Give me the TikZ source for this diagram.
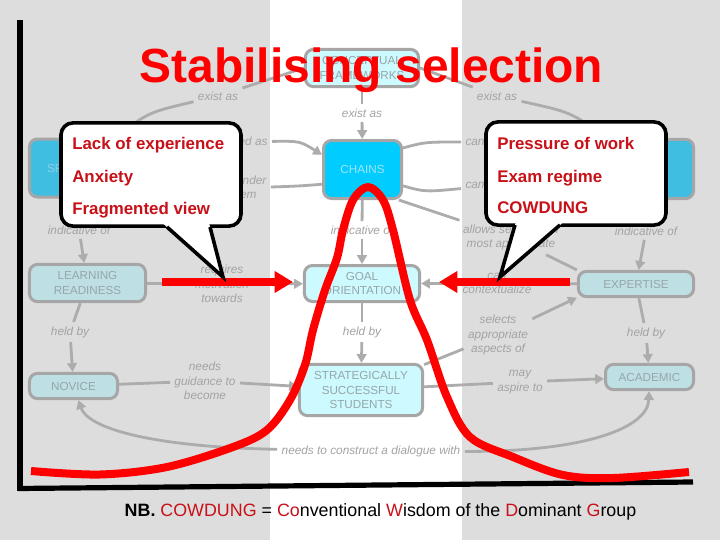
\documentclass[tikz,border=0pt]{standalone}
\usepackage{fontspec}
\setmainfont{Liberation Sans}
\usetikzlibrary{arrows.meta}
\definecolor{bggrey}{RGB}{221,221,221}
\definecolor{linkgrey}{RGB}{172,172,172}
\definecolor{rimgrey}{RGB}{166,166,166}
\definecolor{lblgrey}{RGB}{163,163,163}
\definecolor{boxtxt}{RGB}{150,166,170}
\definecolor{palecyan}{RGB}{190,224,228}
\definecolor{lightcyan}{RGB}{204,250,255}
\definecolor{chainblue}{RGB}{0,204,255}
\definecolor{sideblue}{RGB}{64,190,226}
\definecolor{notered}{RGB}{200,16,24}
\tikzset{
  concept/.style={draw=rimgrey,line width=0.75mm,rounded corners=2mm,align=center,inner sep=0pt,text=boxtxt,font=\fontsize{8.3pt}{10.2pt}\selectfont},
  linklabel/.style={text=lblgrey,align=center,inner sep=3pt,font=\fontsize{8.4pt}{10.3pt}\selectfont\itshape},
  link/.style={draw=linkgrey,line width=0.7mm,>={Triangle[length=2.2mm,width=2.4mm]}},
  callout/.style={draw=black,fill=white,line width=0.9mm,rounded corners=3mm,minimum width=45mm,minimum height=25.8mm,inner sep=0pt},
  notetext/.style={text=notered,inner sep=0pt,anchor=base west,font=\fontsize{12pt}{14pt}\selectfont\bfseries},
  redarrow/.style={draw=red,line width=1.8mm,-{Triangle[length=4.6mm,width=5.2mm]}},
  axisline/.style={draw=black,line width=1.5mm},
  bellcurve/.style={draw=red,line width=2mm}
}
\begin{document}
\begin{tikzpicture}[x=0.25mm,y=-0.25mm]
\useasboundingbox (0,0) rectangle (720,540);
\fill[bggrey] (0,0) rectangle (720,540);
\fill[white] (270,0) rectangle (462,540);

\node[concept,fill=lightcyan,minimum width=28.3mm,minimum height=9.3mm] (cf) at (362,68) {CONCEPTUAL\\FRAMEWORKS};
\node[concept,fill=chainblue,text={rgb,255:red,160;green,228;blue,248},minimum width=19.5mm,minimum height=14.5mm] (chains) at (362.5,169.5) {CHAINS};
\node[concept,fill=sideblue,text={rgb,255:red,140;green,205;blue,228},minimum width=20.8mm,minimum height=14.5mm] (spokes) at (71,168) {SPOKES};
\node[concept,fill=sideblue,text={rgb,255:red,140;green,205;blue,228},minimum width=20.8mm,minimum height=14.8mm] (nets) at (652,169) {NETS};
\node[concept,fill=lightcyan,minimum width=28.8mm,minimum height=9mm] (goal) at (362,283.5) {GOAL\\ORIENTATION};
\node[concept,fill=lightcyan,minimum width=30.8mm,minimum height=12.8mm] (strat) at (361,390) {STRATEGICALLY\\SUCCESSFUL\\STUDENTS};
\node[concept,fill=palecyan,minimum width=29mm,minimum height=9.3mm] (lr) at (87.5,283) {LEARNING\\READINESS};
\node[concept,fill=palecyan,minimum width=22mm,minimum height=6.3mm] (novice) at (73.5,386) {NOVICE};
\node[concept,fill=palecyan,minimum width=28.8mm,minimum height=6.3mm] (expertise) at (636,284) {EXPERTISE};
\node[concept,fill=palecyan,minimum width=22mm,minimum height=6.3mm] (academic) at (649.5,377) {ACADEMIC};

\node[linklabel] (l_ex1) at (218,96) {exist as};
\node[linklabel] (l_ex2) at (497,96) {exist as};
\node[linklabel] (l_ex3) at (362,113) {exist as};
\node[linklabel,anchor=east] (l_dev) at (272,142) {developed as};
\node[linklabel] (l_col) at (228,188.5) {collapse under\\the system};
\node[linklabel,anchor=west] (l_ca1) at (461,142) {can develop into};
\node[linklabel,anchor=west] (l_ca2) at (461,185) {can revert to};
\node[linklabel] (l_allow) at (511,237.5) {allows selection of\\most appropriate};
\node[linklabel] (l_ind1) at (79,230) {indicative of};
\node[linklabel] (l_ind2) at (362,230) {indicative of};
\node[linklabel] (l_ind3) at (646,231) {indicative of};
\node[linklabel] (l_req) at (222,284) {requires\\motivation\\towards};
\node[linklabel] (l_held1) at (70,332) {held by};
\node[linklabel] (l_held2) at (362,332) {held by};
\node[linklabel] (l_held3) at (646,333) {held by};
\node[linklabel] (l_needs) at (205,381) {needs\\guidance to\\become};
\node[linklabel] (l_cont) at (497,283.5) {can\\contextualize};
\node[linklabel] (l_sel) at (498,335) {selects\\appropriate\\aspects of};
\node[linklabel] (l_may) at (520,382) {may\\aspire to};
\node[linklabel] (l_dia) at (371,451) {needs to construct a dialogue with};

\draw[link] (cf.west) -- (l_ex1);
\draw[link,->] (l_ex1) .. controls (150,112) .. (spokes);
\draw[link] (cf) -- (l_ex3);
\draw[link,->] (l_ex3) -- (chains);
\draw[link] (cf.east) -- (l_ex2);
\draw[link,->] (l_ex2) .. controls (570,112) .. (nets);
\draw[link] (spokes) -- (l_dev);
\draw[link,->] (l_dev) .. controls (300,141) .. (chains.160);
\draw[link] (chains.200) .. controls (300,186) .. (l_col);
\draw[link,->] (l_col) -- (spokes);
\draw[link] (chains.28) .. controls (425,142) .. (l_ca1);
\draw[link,->] (l_ca1) -- (nets);
\draw[link] (chains.-22) .. controls (425,192) .. (l_ca2);
\draw[link,->] (l_ca2) -- (nets);
\draw[link] (chains.-40) -- (l_allow);
\draw[link] (l_allow) -- (expertise.north west);
\draw[link] (spokes) -- (l_ind1);
\draw[link,->] (l_ind1) -- (lr);
\draw[link] (chains) -- (l_ind2);
\draw[link,->] (l_ind2) -- (goal);
\draw[link] (nets) -- (l_ind3);
\draw[link,->] (l_ind3) -- (expertise);
\draw[link] (lr) -- (l_req);
\draw[link,->] (l_req) -- (goal);
\draw[link] (lr) -- (l_held1);
\draw[link,->] (l_held1) -- (novice);
\draw[link] (goal) -- (l_held2);
\draw[link,->] (l_held2) -- (strat);
\draw[link] (expertise) -- (l_held3);
\draw[link,->] (l_held3) -- (academic);
\draw[link] (expertise) -- (l_cont);
\draw[link,->] (l_cont) -- (goal);
\draw[link] (strat) -- (l_sel);
\draw[link,->] (l_sel) -- (expertise.193);
\draw[link] (novice) -- (l_needs);
\draw[link,->] (l_needs) -- (strat);
\draw[link] (strat) -- (l_may);
\draw[link,->] (l_may) -- (academic);
\draw[link,->] (l_dia) .. controls (150,447) and (88,428) .. (novice);
\draw[link,->] (l_dia) .. controls (585,452) and (648,428) .. (academic);

\draw[axisline] (20,20) -- (20,491);
\draw[axisline,line width=1.3mm] (18,488.5) -- (693,482);

\node[text=red,anchor=base,inner sep=0pt,font=\fontsize{34.1pt}{40pt}\selectfont\bfseries] (title) at (371.5,82) {Stabilising selection};

\draw[bellcurve] plot[smooth,tension=0.55] coordinates {(31,471) (100,474.5) (167,467) (233,447) (267,430) (290,400) (305,365) (313,330) (325,290) (337,258) (343,230) (353,200) (368,187) (383,200) (393,230) (410,300) (427,340) (447,397) (470,437) (513,457) (563,475) (613,478) (689,472)};

\coordinate (redLfrom) at (162,282);
\coordinate (redLto) at (293,282);
\coordinate (redRfrom) at (570,282);
\coordinate (redRto) at (439,282);
\draw[redarrow] (redLfrom) -- (redLto);
\draw[redarrow] (redRfrom) -- (redRto);

\node[callout] (leftnote) at (151,174.5) {};
\fill[white] (158,219) -- (223,277) -- (208,219) -- cycle;
\draw[black,line width=0.9mm] (167,227) -- (223,277) -- (210,227);
\node[notetext] (lack) at (72,149.5) {Lack of experience};
\node[notetext] (anxiety) at (72,182) {Anxiety};
\node[notetext] (fragment) at (72,214) {Fragmented view};

\node[callout] (rightnote) at (576,173.5) {};
\fill[white] (517.3,217) -- (500,277) -- (569.2,217) -- cycle;
\draw[black,line width=0.9mm] (515,225) -- (500,277) -- (560,225);
\node[notetext] (pressure) at (497,149) {Pressure of work};
\node[notetext] (exam) at (497,182) {Exam regime};
\node[notetext] (cowdung) at (497,213) {COWDUNG};

\node[anchor=base,inner sep=0pt,font=\fontsize{12.7pt}{15pt}\selectfont] (nb) at (380.5,516) {\textbf{NB.} \textcolor{notered}{COWDUNG} = \textcolor{notered}{Co}nventional \textcolor{notered}{W}isdom of the \textcolor{notered}{D}ominant \textcolor{notered}{G}roup};
\end{tikzpicture}
\end{document}
